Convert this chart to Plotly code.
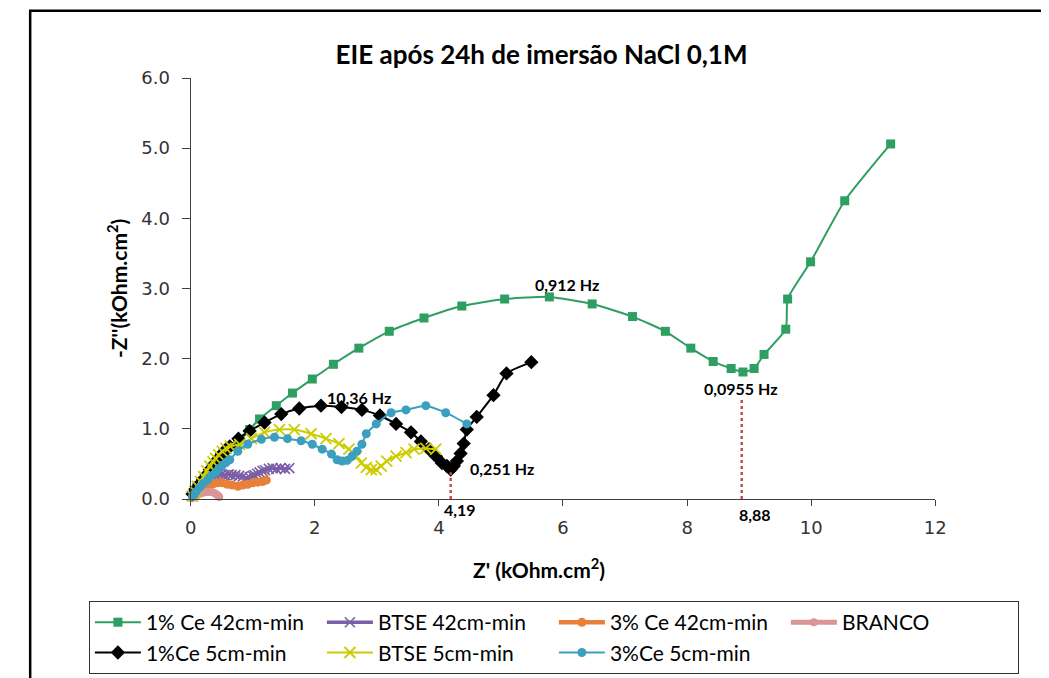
import plotly.graph_objects as go

# ---------------- data (kOhm.cm2) ----------------
x_ce1_42 = [0.03, 0.14, 0.34, 0.55, 0.76, 0.95, 1.11, 1.38, 1.64, 1.96, 2.30, 2.71, 3.20, 3.76, 4.37,
            5.06, 5.78, 6.47, 7.12, 7.65, 8.06, 8.42, 8.71, 8.90, 9.08, 9.24, 9.59, 9.62, 9.99, 10.54, 11.28]
y_ce1_42 = [0.04, 0.14, 0.35, 0.58, 0.79, 0.99, 1.14, 1.33, 1.51, 1.71, 1.92, 2.15, 2.39, 2.58, 2.75,
            2.85, 2.88, 2.78, 2.60, 2.39, 2.15, 1.96, 1.86, 1.81, 1.86, 2.06, 2.42, 2.85, 3.38, 4.25, 5.06]

x_btse_42 = [0.02, 0.05, 0.08, 0.11, 0.14, 0.18, 0.22, 0.26, 0.31, 0.35, 0.40, 0.45, 0.50, 0.55, 0.61, 0.66,
             0.72, 0.78, 0.84, 0.90, 0.95, 1.00, 1.03, 1.07, 1.11, 1.16, 1.20, 1.26, 1.32, 1.38, 1.45, 1.52, 1.59]
y_btse_42 = [0.04, 0.08, 0.11, 0.15, 0.18, 0.22, 0.25, 0.28, 0.30, 0.32, 0.34, 0.35, 0.35, 0.34, 0.35, 0.34,
             0.34, 0.33, 0.32, 0.30, 0.31, 0.33, 0.34, 0.36, 0.38, 0.40, 0.41, 0.43, 0.44, 0.43, 0.44, 0.43, 0.44]

x_ce3_42 = [0.05, 0.11, 0.19, 0.27, 0.35, 0.43, 0.51, 0.59, 0.67, 0.76, 0.84, 0.92, 1.00, 1.08, 1.16, 1.22]
y_ce3_42 = [0.06, 0.10, 0.14, 0.18, 0.21, 0.23, 0.23, 0.21, 0.20, 0.18, 0.20, 0.21, 0.23, 0.24, 0.25, 0.27]

x_branco = [0.02, 0.05, 0.09, 0.14, 0.20, 0.26, 0.32, 0.37, 0.41, 0.44, 0.46]
y_branco = [0.01, 0.03, 0.05, 0.07, 0.09, 0.10, 0.10, 0.09, 0.07, 0.05, 0.03]

x_ce1_5 = [0.03, 0.08, 0.14, 0.20, 0.26, 0.31, 0.37, 0.43, 0.50, 0.56, 0.63, 0.77, 0.95, 1.19, 1.46, 1.75,
           2.10, 2.43, 2.76, 3.05, 3.31, 3.55, 3.71, 3.84, 3.95, 4.05, 4.13, 4.19, 4.24, 4.29, 4.35, 4.40,
           4.45, 4.61, 4.88, 5.09, 5.49]
y_ce1_5 = [0.07, 0.14, 0.21, 0.28, 0.35, 0.42, 0.49, 0.56, 0.64, 0.70, 0.75, 0.86, 0.97, 1.09, 1.21, 1.29,
           1.33, 1.31, 1.27, 1.19, 1.07, 0.95, 0.82, 0.71, 0.61, 0.51, 0.47, 0.42, 0.47, 0.54, 0.65, 0.79,
           0.99, 1.17, 1.48, 1.79, 1.95]

x_btse_5 = [0.03, 0.07, 0.11, 0.16, 0.21, 0.26, 0.31, 0.36, 0.40, 0.45, 0.51, 0.57, 0.64, 0.79, 0.98, 1.19,
            1.43, 1.67, 1.94, 2.18, 2.39, 2.55, 2.67, 2.75, 2.83, 2.91, 2.99, 3.07, 3.16, 3.31, 3.47, 3.60,
            3.79, 3.95]
y_btse_5 = [0.04, 0.11, 0.18, 0.25, 0.32, 0.40, 0.47, 0.53, 0.58, 0.63, 0.68, 0.72, 0.75, 0.78, 0.86, 0.95,
            0.99, 0.99, 0.93, 0.86, 0.79, 0.71, 0.61, 0.51, 0.45, 0.42, 0.42, 0.47, 0.54, 0.61, 0.66, 0.71,
            0.72, 0.71]

x_ce3_5 = [0.03, 0.08, 0.14, 0.20, 0.27, 0.33, 0.40, 0.45, 0.51, 0.57, 0.63, 0.76, 0.92, 1.14, 1.35, 1.56,
           1.78, 1.96, 2.12, 2.27, 2.36, 2.44, 2.52, 2.60, 2.68, 2.76, 2.83, 2.99, 3.23, 3.47, 3.79, 4.11, 4.45]
y_ce3_5 = [0.04, 0.10, 0.16, 0.22, 0.27, 0.33, 0.38, 0.43, 0.48, 0.52, 0.56, 0.68, 0.78, 0.85, 0.88, 0.86,
           0.83, 0.78, 0.71, 0.64, 0.56, 0.54, 0.55, 0.61, 0.68, 0.78, 0.93, 1.07, 1.23, 1.27, 1.33, 1.23, 1.07]

# dotted reference lines (Z' at the minima)
x_ref_419 = [4.19, 4.19]
y_ref_419 = [0.0, 0.38]
x_ref_888 = [8.88, 8.88]
y_ref_888 = [0.0, 1.45]

x_ticks = [0, 2, 4, 6, 8, 10, 12]
y_ticks = [0, 1, 2, 3, 4, 5, 6]

FONT = "Lato"

fig = go.Figure()

def add(x, y, name, color, symbol, msize, lw, mline=0):
    fig.add_trace(go.Scatter(
        x=x, y=y, name=name, mode="lines+markers", cliponaxis=False,
        line=dict(color=color, width=lw, shape="spline", smoothing=0.5),
        marker=dict(symbol=symbol, size=msize, color=color,
                    line=dict(color=color, width=mline)),
    ))

add(x_ce1_42, y_ce1_42, "1% Ce 42cm-min", "#2e9e63", "square", 9, 2)
add(x_btse_42, y_btse_42, "BTSE 42cm-min", "#7b5fa6", "x-thin-open", 10, 3.5, 1.6)
add(x_ce3_42, y_ce3_42, "3% Ce 42cm-min", "#e8803a", "circle", 9, 4.5)
add(x_branco, y_branco, "BRANCO", "#d99694", "circle", 8, 5)
add(x_ce1_5, y_ce1_5, "1%Ce 5cm-min", "#000000", "diamond", 11, 2)
add(x_btse_5, y_btse_5, "BTSE 5cm-min", "#cccc00", "x-thin-open", 11, 2, 1.8)
add(x_ce3_5, y_ce3_5, "3%Ce 5cm-min", "#3b9fbf", "circle", 9, 2)

for xr, yr in ((x_ref_419, y_ref_419), (x_ref_888, y_ref_888)):
    fig.add_trace(go.Scatter(x=xr, y=yr, mode="lines", showlegend=False, hoverinfo="skip",
                             line=dict(color="#c0504d", width=2.5, dash="dot")))

ann_font = dict(family=FONT, size=16, color="#000000")
notes = [("0,912 Hz", 6.06, 3.05, 0), ("0,0955 Hz", 8.87, 1.57, 0), ("10,36 Hz", 2.71, 1.45, 0),
         ("0,251 Hz", 5.01, 0.44, 0), ("4,19", 4.34, 0.001, -11), ("8,88", 9.09, 0.001, -16)]
for txt, ax_, ay_, ys in notes:
    fig.add_annotation(x=ax_, y=ay_, xref="x", yref="y", text="<b>%s</b>" % txt, showarrow=False,
                       font=ann_font, xanchor="center", yanchor="middle", yshift=ys)

# axis titles
fig.add_annotation(x=0.4768, y=-0.1647, xref="paper", yref="paper", showarrow=False,
                   text="<b>Z' (kOhm.cm<sup>2</sup>)</b>", font=dict(family=FONT, size=21, color="#000"),
                   xanchor="center", yanchor="middle")
fig.add_annotation(x=0.0316, y=0.5012, xref="paper", yref="paper", showarrow=False, textangle=-90,
                   text="<b>-Z''(kOhm.cm<sup>2</sup>)</b>", font=dict(family=FONT, size=21, color="#000"),
                   xanchor="center", yanchor="middle")

# outer frame
fig.add_shape(type="rect", xref="paper", yref="paper", x0=-0.06, x1=1.05, y0=1.16, y1=-0.45,
              line=dict(color="#000000", width=2.5), fillcolor="rgba(0,0,0,0)", layer="above")

fig.update_layout(
    width=1049, height=678,
    paper_bgcolor="white", plot_bgcolor="white",
    margin=dict(l=79, r=20, t=70, b=183),
    title=dict(text="<b>EIE após 24h de imersão NaCl 0,1M</b>", x=0.48, xref="paper",
               y=1 - 47 / 678, yref="container", xanchor="center", yanchor="middle",
               font=dict(family=FONT, size=26, color="#000")),
    xaxis=dict(domain=[0.10947, 0.89579], range=[0, 12], tickvals=x_ticks, showgrid=False, zeroline=False,
               showline=True, linecolor="#404040", linewidth=1.2, ticks="outside", ticklen=6,
               tickcolor="#404040", ticklabelstandoff=6,
               tickfont=dict(family="DejaVu Sans", size=18, color="#333")),
    yaxis=dict(range=[0, 6], tickvals=y_ticks, tickformat=".1f", showgrid=False, zeroline=False,
               showline=True, linecolor="#404040", linewidth=1.2, ticks="outside", ticklen=8,
               tickcolor="#404040", ticklabelstandoff=8,
               tickfont=dict(family="DejaVu Sans", size=18, color="#333")),
    legend=dict(orientation="h", x=0.002, xanchor="left", y=-0.2424, yanchor="top",
                entrywidth=171, itemwidth=46, bordercolor="#333", borderwidth=1,
                font=dict(family=FONT, size=21, color="#000"), traceorder="normal"),
    showlegend=True,
)

fig.write_html("out.html")
